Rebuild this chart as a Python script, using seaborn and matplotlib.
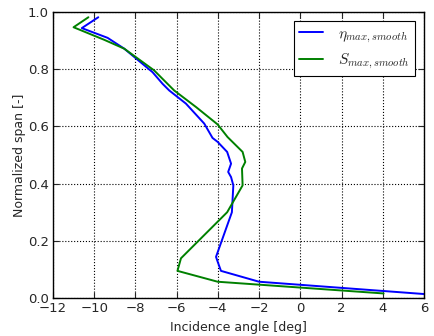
import matplotlib
matplotlib.use("Agg")
import matplotlib.pyplot as plt
import seaborn as sns
import pandas as pd

eta_angle = [-9.8, -10.6, -9.35, -8.54, -7.17, -6.68, -6.36, -5.55, -4.66, -4.26, -4.01,
             -3.55, -3.36, -3.5, -3.36, -3.25, -3.32, -4.09, -4.01, -3.85, -2.0, 6.0]
eta_span = [0.982, 0.944, 0.91, 0.872, 0.79, 0.749, 0.726, 0.68, 0.61, 0.56, 0.546,
            0.511, 0.47, 0.441, 0.423, 0.394, 0.30, 0.144, 0.127, 0.095, 0.057, 0.014]

s_angle = [-10.28, -11.0, -9.51, -8.54, -7.09, -6.44, -6.12, -5.06, -4.01, -3.53, -2.8,
           -2.67, -2.83, -2.8, -3.55, -5.79, -5.96, -4.01, 4.04]
s_span = [0.982, 0.947, 0.903, 0.872, 0.796, 0.749, 0.726, 0.668, 0.607, 0.563, 0.511,
          0.476, 0.453, 0.394, 0.30, 0.139, 0.095, 0.057, 0.016]

labels = [r'$\eta_{max,smooth}$', r'$S_{max,smooth}$']
x_ticks = [-12, -10, -8, -6, -4, -2, 0, 2, 4, 6]
y_ticks = [0.0, 0.2, 0.4, 0.6, 0.8, 1.0]

df = pd.concat([
    pd.DataFrame({'angle': eta_angle, 'span': eta_span, 'series': labels[0]}),
    pd.DataFrame({'angle': s_angle, 'span': s_span, 'series': labels[1]}),
], ignore_index=True)

sns.set_style('white')
plt.rcParams['font.family'] = ['DejaVu Sans']
plt.rcParams['mathtext.fontset'] = 'cm'
plt.rcParams['xtick.direction'] = 'in'
plt.rcParams['ytick.direction'] = 'in'

fig = plt.figure(figsize=(4.34, 3.36), dpi=100)
ax = fig.add_axes([0.122, 0.113, 0.855, 0.851])

sns.lineplot(data=df, x='angle', y='span', hue='series', sort=False, estimator=None,
             palette={labels[0]: '#0000ff', labels[1]: '#008000'}, linewidth=1.4, ax=ax)

ax.set_xlim(-12, 6)
ax.set_ylim(0, 1.0)
ax.set_xticks(x_ticks)
ax.set_yticks(y_ticks)
ax.set_xticklabels([f'\u2212{abs(t)}' if t < 0 else str(t) for t in x_ticks], fontsize=9.5)
ax.set_yticklabels([f'{t:.1f}' for t in y_ticks], fontsize=9.5)
ax.tick_params(axis='both', which='both', direction='in', length=4, width=0.8,
               top=True, right=True, bottom=True, left=True, pad=3)
ax.grid(True, linestyle=':', color='black', linewidth=0.8)
for sp in ax.spines.values():
    sp.set_color('black')
    sp.set_linewidth(1.0)
ax.set_xlabel('Incidence angle [deg]', fontsize=9)
ax.set_ylabel('Normalized span [-]', fontsize=9, labelpad=1)

leg = ax.legend(loc='upper right', fontsize=11, frameon=True, fancybox=False,
                edgecolor='black', framealpha=1, handlelength=1.6, borderpad=0.3,
                labelspacing=0.5, handletextpad=1.0, borderaxespad=0.6)
leg.get_frame().set_linewidth(0.8)

fig.savefig('out.png', dpi=100)
